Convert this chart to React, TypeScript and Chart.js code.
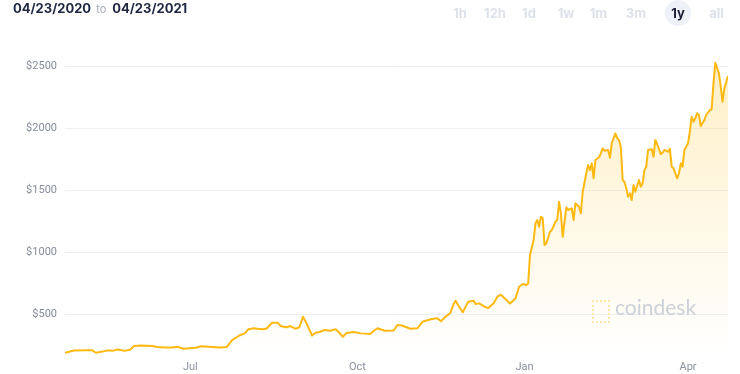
import React, { useEffect, useRef } from 'react';
import { Chart, registerables } from 'chart.js';
Chart.register(...registerables);

// Days since 04/23/2020
const days = [
  0, 5, 12, 15, 17, 20, 24, 26, 29, 33,
  36, 38, 42, 48, 51, 55, 59, 62, 65, 72,
  75, 81, 85, 89, 92, 96, 99, 101, 104, 106,
  109, 111, 114, 117, 119, 122, 124, 127, 129, 131,
  133, 136, 138, 140, 143, 146, 149, 151, 153, 155,
  159, 163, 168, 170, 172, 176, 181, 183, 185, 188,
  190, 194, 197, 199, 202, 205, 207, 209, 212, 214,
  215, 217, 219, 222, 225, 226, 228, 231, 233, 236,
  238, 240, 243, 245, 248, 250, 252, 254, 255, 256,
  258, 259, 260, 261, 262, 263, 264, 265, 267, 268,
  270, 271, 272, 273, 274, 275, 276, 277, 279, 280,
  281, 283, 284, 285, 287, 288, 289, 290, 291, 292,
  294, 295, 296, 297, 299, 300, 301, 303, 304, 305,
  306, 307, 308, 309, 310, 311, 312, 313, 314, 316,
  317, 318, 319, 320, 321, 323, 324, 325, 326, 328,
  329, 330, 332, 333, 334, 335, 337, 338, 339, 340,
  341, 343, 344, 345, 346, 347, 348, 349, 350, 352,
  353, 355, 356, 357, 358, 360, 361, 362, 363, 365,
];

// Price in USD
const prices = [
  188, 206, 207, 207, 188, 196, 207, 203, 214, 203,
  214, 242, 246, 242, 234, 231, 230, 236, 220, 228,
  240, 235, 231, 234, 290, 327, 344, 377, 385, 381,
  377, 383, 430, 430, 401, 393, 403, 381, 393, 478,
  425, 327, 349, 355, 371, 365, 377, 349, 317, 347,
  355, 344, 339, 365, 385, 365, 367, 411, 409, 393,
  381, 385, 440, 448, 460, 465, 441, 473, 506, 581,
  607, 559, 514, 599, 607, 581, 586, 559, 548, 586,
  640, 656, 613, 585, 625, 720, 742, 734, 746, 976,
  1097, 1231, 1258, 1204, 1285, 1272, 1056, 1070, 1164, 1177,
  1244, 1258, 1406, 1312, 1123, 1244, 1360, 1339, 1352, 1258,
  1393, 1365, 1312, 1486, 1635, 1702, 1661, 1715, 1594, 1742,
  1764, 1796, 1836, 1817, 1823, 1760, 1877, 1957, 1919, 1903,
  1847, 1581, 1565, 1516, 1446, 1473, 1419, 1540, 1486, 1581,
  1527, 1554, 1661, 1688, 1823, 1828, 1769, 1903, 1871, 1790,
  1801, 1823, 1809, 1833, 1688, 1675, 1594, 1635, 1715, 1688,
  1823, 1877, 1970, 2091, 2051, 2078, 2119, 2105, 2016, 2065,
  2105, 2145, 2151, 2360, 2527, 2441, 2333, 2212, 2320, 2419,
];

const xTickDays = [69, 161, 253, 343];
const xTickLabels = ['Jul', 'Oct', 'Jan', 'Apr'];
const yTickValues = [500, 1000, 1500, 2000, 2500];
const rangeFrom = '04/23/2020';
const rangeTo = '04/23/2021';
const intervals = ['1h', '12h', '1d', '1w', '1m', '3m', '1y', 'all'];
const activeInterval = '1y';
const intervalCenters = [460, 495, 529, 566, 598.5, 636, 678, 716.5];

export default function App() {
  const ref = useRef<HTMLCanvasElement | null>(null);

  useEffect(() => {
    const canvas = ref.current;
    if (!canvas) return;
    const chart = new Chart(canvas, {
      type: 'line',
      data: {
        datasets: [
          {
            data: days.map((d, i) => ({ x: d, y: prices[i] })),
            borderColor: '#ffb911',
            borderWidth: 2,
            pointRadius: 0,
            tension: 0,
            borderJoinStyle: 'round',
            fill: 'start',
            backgroundColor: (ctx: any) => {
              const c = ctx.chart;
              const area = c.chartArea;
              if (!area) return 'rgba(255,190,20,0.1)';
              const g = c.ctx.createLinearGradient(0, area.top, 0, area.bottom);
              g.addColorStop(0, 'rgba(255,190,20,0.24)');
              g.addColorStop(1, 'rgba(255,190,20,0)');
              return g;
            },
          },
        ],
      },
      options: {
        responsive: false,
        animation: false,
        devicePixelRatio: 1,
        layout: { padding: { top: 59.8, right: 12, left: 0, bottom: 0 } },
        plugins: { legend: { display: false }, tooltip: { enabled: false } },
        scales: {
          x: {
            type: 'linear',
            min: 0,
            max: 365,
            grid: { display: false },
            border: { display: false },
            afterBuildTicks: (scale: any) => {
              scale.ticks = xTickDays.map((v) => ({ value: v }));
            },
            afterFit: (scale: any) => {
              scale.height = 18.8;
            },
            ticks: {
              padding: -3,
              color: '#8a909e',
              font: { family: 'Roboto', size: 11 },
              maxRotation: 0,
              autoSkip: false,
              callback: (v: any) => {
                const i = xTickDays.indexOf(Number(v));
                return i >= 0 ? xTickLabels[i] : '';
              },
            },
          },
          y: {
            type: 'linear',
            min: 168,
            max: 2550,
            border: { display: false },
            grid: { color: '#eceff5', lineWidth: 1, drawTicks: false },
            afterBuildTicks: (scale: any) => {
              scale.ticks = yTickValues.map((v) => ({ value: v }));
            },
            afterFit: (scale: any) => {
              scale.width = 65;
            },
            ticks: {
              padding: 8,
              color: '#858b99',
              font: { family: 'Roboto', size: 11 },
              callback: (v: any) => '$' + v,
            },
          },
        },
      },
    });
    return () => chart.destroy();
  }, []);

  return (
    <div style={{ position: 'absolute', left: 0, top: 0, width: 740, height: 374, background: '#fff', overflow: 'hidden' }}>
      <canvas ref={ref} width={740} height={374} style={{ position: 'absolute', left: 0, top: 0, width: 740, height: 374 }} />
      <div
        style={{
          position: 'absolute',
          left: 13,
          top: 0,
          display: 'flex',
          alignItems: 'baseline',
          fontFamily: 'Inter, sans-serif',
          lineHeight: '17px',
        }}
      >
        <span style={{ fontSize: 13, fontWeight: 700, color: '#1f2742' }}>{rangeFrom}</span>
        <span style={{ fontSize: 11, color: '#a3a9b6', margin: '0 6px 0 5px' }}>to</span>
        <span style={{ fontSize: 13, fontWeight: 700, color: '#1f2742' }}>{rangeTo}</span>
      </div>
      {intervals.map((t, i) => {
        const active = t === activeInterval;
        const cx = intervalCenters[i];
        return (
          <div
            key={t}
            style={{
              position: 'absolute',
              left: cx - 13,
              top: 0,
              width: 26,
              height: 26,
              borderRadius: '50%',
              background: active ? '#eef1f7' : 'transparent',
              color: active ? '#1b2036' : '#dde1ea',
              fontFamily: 'Inter, sans-serif',
              fontWeight: 700,
              fontSize: 13,
              lineHeight: '26px',
              textAlign: 'center',
              whiteSpace: 'nowrap',
              display: 'flex',
              justifyContent: 'center',
            }}
          >
            {t}
          </div>
        );
      })}
      <div
        style={{
          position: 'absolute',
          left: 592,
          top: 300,
          width: 14,
          height: 19,
          border: '2.5px dotted #fde6a6',
          borderRadius: 2,
        }}
      />
      <div
        style={{
          position: 'absolute',
          left: 615,
          top: 295,
          fontFamily: 'Lato, sans-serif',
          fontSize: 21,
          lineHeight: '24px',
          color: '#ccd0d8',
        }}
      >
        coindesk
      </div>
    </div>
  );
}
